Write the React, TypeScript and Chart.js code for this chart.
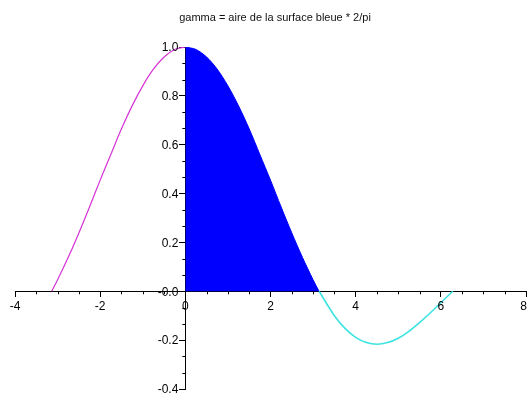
import React, { useEffect, useRef } from "react";
import { Chart, registerables } from "chart.js";

Chart.register(...registerables);

const TITLE = "gamma = aire de la surface bleue * 2/pi";

// Left branch (magenta), from -pi up to the peak at 0
const leftX = [-3.14, -3.0, -2.75, -2.5, -2.25, -2.0, -1.75, -1.5, -1.25, -1.0, -0.75, -0.5, -0.25, 0];
const leftY = [0, 0.047, 0.139, 0.239, 0.345, 0.455, 0.56, 0.665, 0.759, 0.841, 0.909, 0.959, 0.99, 1.0];

// Filled lobe (blue), from 0 down to pi
const areaX = [0, 0.25, 0.5, 0.75, 1.0, 1.25, 1.5, 1.75, 2.0, 2.25, 2.5, 2.75, 3.0, 3.14];
const areaY = [1.0, 0.99, 0.959, 0.909, 0.841, 0.759, 0.665, 0.56, 0.455, 0.345, 0.239, 0.139, 0.047, 0];

// Right branch (cyan), the negative dip between pi and 2pi
const rightX = [3.14, 3.5, 3.75, 4.0, 4.25, 4.5, 4.75, 5.0, 5.25, 5.5, 5.75, 6.0, 6.28];
const rightY = [0, -0.1, -0.152, -0.189, -0.21, -0.217, -0.21, -0.192, -0.164, -0.128, -0.089, -0.047, 0];

const X_MIN = -4;
const X_MAX = 8;
const Y_MIN = -0.4;
const Y_MAX = 1.0;

const FONT = "'Liberation Sans', Arial, sans-serif";

const toPoints = (xs: number[], ys: number[]) => xs.map((x, i) => ({ x, y: ys[i] }));

// Minor tick marks on both axes, tick labels beside the crossing axes, and the title
const decorations = {
  id: "decorations",
  afterDraw(chart: any) {
    const { ctx, scales, width } = chart;
    const xs = scales.x;
    const ys = scales.y;
    const x0 = xs.getPixelForValue(0);
    const y0 = ys.getPixelForValue(0);
    ctx.save();
    ctx.strokeStyle = "#000";
    ctx.lineWidth = 1;
    ctx.beginPath();
    for (let v = X_MIN; v <= X_MAX + 1e-9; v += 0.5) {
      if (Math.abs(v / 2 - Math.round(v / 2)) < 1e-6) continue;
      const px = Math.round(xs.getPixelForValue(v)) + 0.5;
      ctx.moveTo(px, y0);
      ctx.lineTo(px, y0 + 3);
    }
    const step = 0.2 / 3;
    for (let k = 0; k <= 21; k++) {
      if (k % 3 === 0) continue;
      const v = Y_MIN + k * step;
      const py = Math.round(ys.getPixelForValue(v)) + 0.5;
      ctx.moveTo(x0, py);
      ctx.lineTo(x0 - 3, py);
    }
    ctx.stroke();

    ctx.fillStyle = "#000";
    ctx.font = `12px ${FONT}`;
    ctx.textAlign = "right";
    ctx.textBaseline = "middle";
    ys.ticks.forEach((t: any) => {
      ctx.fillText(Number(t.value).toFixed(1), x0 - 7, ys.getPixelForValue(t.value) + 1);
    });

    // x labels centred under their ticks, kept inside the canvas at the right end
    ctx.textAlign = "left";
    ctx.textBaseline = "top";
    xs.ticks.forEach((t: any) => {
      const label = String(t.value);
      const w = ctx.measureText(label).width;
      let left = xs.getPixelForValue(t.value) - w / 2;
      left = Math.min(left, width - 1 - w);
      ctx.fillText(label, left, y0 + 9);
    });

    ctx.fillStyle = "#111";
    ctx.font = `11px ${FONT}`;
    ctx.textAlign = "center";
    ctx.textBaseline = "alphabetic";
    ctx.fillText(TITLE, 275, 21);
    ctx.restore();
  },
};

export default function App() {
  const canvasRef = useRef<HTMLCanvasElement | null>(null);

  useEffect(() => {
    if (!canvasRef.current) return;
    const chart = new Chart(canvasRef.current, {
      type: "line",
      data: {
        datasets: [
          {
            data: toPoints(areaX, areaY),
            borderColor: "#0000ff",
            backgroundColor: "#0000ff",
            borderWidth: 1,
            fill: "origin",
            pointRadius: 0,
            tension: 0.3,
          },
          {
            data: toPoints(leftX, leftY),
            borderColor: "#d632d6",
            borderWidth: 1.2,
            fill: false,
            pointRadius: 0,
            tension: 0.3,
          },
          {
            data: toPoints(rightX, rightY),
            borderColor: "#3ce3e3",
            borderWidth: 1.6,
            fill: false,
            pointRadius: 0,
            tension: 0.3,
          },
        ],
      },
      options: {
        responsive: false,
        animation: false,
        layout: { padding: { left: 15, right: 2, top: 47, bottom: 5 } },
        plugins: {
          legend: { display: false },
          title: { display: false },
          tooltip: { enabled: false },
        },
        scales: {
          x: {
            type: "linear",
            min: X_MIN,
            max: X_MAX,
            position: { y: 0 } as any,
            grid: { drawOnChartArea: false, color: "#000", tickLength: 5 },
            border: { color: "#000", width: 1 },
            afterFit: (s: any) => {
              s.paddingLeft = 0;
              s.paddingRight = 0;
            },
            ticks: {
              stepSize: 2,
              display: false,
            },
          },
          y: {
            type: "linear",
            min: Y_MIN,
            max: Y_MAX,
            position: { x: 0 } as any,
            grid: { drawOnChartArea: false, color: "#000", tickLength: 6 },
            border: { color: "#000", width: 1 },
            afterFit: (s: any) => {
              s.width = 0;
              s.paddingTop = 0;
              s.paddingBottom = 0;
            },
            ticks: {
              stepSize: 0.2,
              display: false,
            },
          },
        },
      },
      plugins: [decorations],
    });
    return () => chart.destroy();
  }, []);

  return (
    <div style={{ position: "absolute", left: 0, top: 0, width: 528, height: 394, background: "#fff" }}>
      <canvas ref={canvasRef} width={528} height={394} />
    </div>
  );
}
